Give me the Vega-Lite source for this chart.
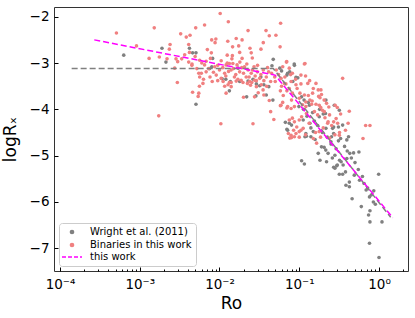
{
  "$schema": "https://vega.github.io/schema/vega-lite/v6.json",
  "width": 354,
  "height": 264,
  "autosize": {"type": "none"},
  "padding": {"left": 54, "top": 7, "right": 7, "bottom": 47},
  "config": {
    "font": "DejaVu Sans",
    "view": {"stroke": "#333333", "strokeWidth": 1}
  },
  "datasets": {
    "wright": [
      {"Ro":0.00063,"logRx":-2.83},{"Ro":0.0019,"logRx":-2.68},{"Ro":0.00213,"logRx":-2.98},{"Ro":0.0042,"logRx":-2.68},
      {"Ro":0.00507,"logRx":-2.78},{"Ro":0.00507,"logRx":-3.89},{"Ro":0.0082,"logRx":-2.90},{"Ro":0.0472,"logRx":-2.92},
      {"Ro":0.0455,"logRx":-3.06},{"Ro":0.008,"logRx":-3.08},{"Ro":0.0179,"logRx":-3.40},{"Ro":0.0228,"logRx":-3.39},
      {"Ro":0.0319,"logRx":-3.49},{"Ro":0.036,"logRx":-3.47},{"Ro":0.0415,"logRx":-3.51},{"Ro":0.0133,"logRx":-3.60},
      {"Ro":0.0286,"logRx":-3.71},{"Ro":0.0386,"logRx":-3.69},{"Ro":0.0467,"logRx":-3.80},{"Ro":0.0866,"logRx":-3.02},
      {"Ro":0.057,"logRx":-3.11},{"Ro":0.0715,"logRx":-3.22},{"Ro":0.091,"logRx":-3.31},{"Ro":0.099,"logRx":-3.94},
      {"Ro":0.134,"logRx":-3.91},{"Ro":0.216,"logRx":-3.80},{"Ro":0.275,"logRx":-3.91},{"Ro":0.318,"logRx":-4.02},
      {"Ro":0.0715,"logRx":-4.45},{"Ro":0.121,"logRx":-4.52},{"Ro":0.14,"logRx":-4.59},{"Ro":0.216,"logRx":-4.41},
      {"Ro":0.262,"logRx":-4.41},{"Ro":0.254,"logRx":-4.59},{"Ro":0.113,"logRx":-4.00},{"Ro":0.147,"logRx":-4.07},
      {"Ro":0.178,"logRx":-4.16},{"Ro":0.213,"logRx":-4.09},{"Ro":0.27,"logRx":-4.38},{"Ro":0.31,"logRx":-4.38},
      {"Ro":0.35,"logRx":-4.34},{"Ro":0.27,"logRx":-4.52},{"Ro":0.33,"logRx":-4.63},{"Ro":0.415,"logRx":-4.59},
      {"Ro":0.395,"logRx":-4.66},{"Ro":0.15,"logRx":-4.48},{"Ro":0.123,"logRx":-4.58},{"Ro":0.158,"logRx":-4.65},
      {"Ro":0.19,"logRx":-4.81},{"Ro":0.215,"logRx":-4.88},{"Ro":0.25,"logRx":-4.70},{"Ro":0.23,"logRx":-4.95},
      {"Ro":0.28,"logRx":-4.99},{"Ro":0.32,"logRx":-5.10},{"Ro":0.43,"logRx":-4.95},{"Ro":0.48,"logRx":-4.94},
      {"Ro":0.56,"logRx":-4.92},{"Ro":0.395,"logRx":-5.06},{"Ro":0.355,"logRx":-5.20},{"Ro":0.28,"logRx":-5.27},
      {"Ro":0.22,"logRx":-5.13},{"Ro":0.107,"logRx":-5.11},{"Ro":0.116,"logRx":-5.18},{"Ro":0.182,"logRx":-5.10},
      {"Ro":0.173,"logRx":-4.95},{"Ro":0.136,"logRx":-4.30},{"Ro":0.112,"logRx":-4.23},{"Ro":0.27,"logRx":-5.25},
      {"Ro":0.295,"logRx":-5.22},{"Ro":0.318,"logRx":-5.40},{"Ro":0.35,"logRx":-5.40},{"Ro":0.385,"logRx":-5.64},
      {"Ro":0.425,"logRx":-5.57},{"Ro":0.425,"logRx":-5.67},{"Ro":0.46,"logRx":-5.93},{"Ro":0.49,"logRx":-5.42},
      {"Ro":0.57,"logRx":-5.53},{"Ro":0.60,"logRx":-6.10},{"Ro":0.69,"logRx":-5.74},{"Ro":0.76,"logRx":-5.89},
      {"Ro":0.77,"logRx":-6.19},{"Ro":0.74,"logRx":-6.28},{"Ro":0.77,"logRx":-6.43},{"Ro":0.86,"logRx":-5.76},
      {"Ro":0.99,"logRx":-5.40},{"Ro":1.09,"logRx":-6.43},{"Ro":0.76,"logRx":-6.89},{"Ro":1.0,"logRx":-7.20},
      {"Ro":0.335,"logRx":-5.13},{"Ro":0.38,"logRx":-5.35},{"Ro":0.07,"logRx":-4.43},{"Ro":0.075,"logRx":-4.30},
      {"Ro":0.118,"logRx":-4.59},{"Ro":0.0075,"logRx":-3.12},{"Ro":0.0108,"logRx":-3.34},{"Ro":0.0137,"logRx":-3.40},
      {"Ro":0.0171,"logRx":-3.11},{"Ro":0.0219,"logRx":-3.73},{"Ro":0.0263,"logRx":-3.35},{"Ro":0.029,"logRx":-3.45},
      {"Ro":0.033,"logRx":-3.30},{"Ro":0.06,"logRx":-3.17},{"Ro":0.07,"logRx":-3.26},{"Ro":0.076,"logRx":-3.19},
      {"Ro":0.087,"logRx":-3.05},{"Ro":0.096,"logRx":-3.32},{"Ro":0.083,"logRx":-3.40},{"Ro":0.107,"logRx":-3.73},
      {"Ro":0.115,"logRx":-3.80},{"Ro":0.13,"logRx":-3.85},{"Ro":0.18,"logRx":-4.00},{"Ro":0.20,"logRx":-4.10},
      {"Ro":0.067,"logRx":-4.28},{"Ro":0.08,"logRx":-4.34},{"Ro":0.012,"logRx":-3.35},{"Ro":0.0046,"logRx":-2.78},
      {"Ro":0.17,"logRx":-4.35},{"Ro":0.195,"logRx":-4.50},{"Ro":0.225,"logRx":-4.60},{"Ro":0.25,"logRx":-4.75},
      {"Ro":0.29,"logRx":-4.85},{"Ro":0.31,"logRx":-4.68},{"Ro":0.37,"logRx":-4.80},{"Ro":0.40,"logRx":-4.90},
      {"Ro":0.45,"logRx":-5.05},{"Ro":0.50,"logRx":-5.15},{"Ro":0.55,"logRx":-5.30},{"Ro":0.62,"logRx":-5.45},
      {"Ro":0.65,"logRx":-5.60},{"Ro":0.72,"logRx":-5.70},{"Ro":0.80,"logRx":-5.85},{"Ro":0.85,"logRx":-6.00},
      {"Ro":0.90,"logRx":-6.05},{"Ro":0.26,"logRx":-5.05},{"Ro":0.30,"logRx":-5.20},{"Ro":0.205,"logRx":-4.82},
      {"Ro":0.14,"logRx":-4.40},{"Ro":0.155,"logRx":-4.25},{"Ro":0.125,"logRx":-4.15}
    ],
    "binaries": [
      {"Ro":0.00051,"logRx":-2.35},{"Ro":0.00091,"logRx":-2.63},{"Ro":0.00152,"logRx":-2.24},{"Ro":0.00131,"logRx":-2.90},
      {"Ro":0.00176,"logRx":-2.87},{"Ro":0.0022,"logRx":-2.91},{"Ro":0.0024,"logRx":-2.60},{"Ro":0.00235,"logRx":-2.70},
      {"Ro":0.00326,"logRx":-2.37},{"Ro":0.00383,"logRx":-2.44},{"Ro":0.00427,"logRx":-2.40},{"Ro":0.00411,"logRx":-2.60},
      {"Ro":0.0042,"logRx":-2.77},{"Ro":0.00366,"logRx":-2.82},{"Ro":0.00503,"logRx":-2.24},{"Ro":0.00495,"logRx":-2.86},
      {"Ro":0.00285,"logRx":-2.91},{"Ro":0.00299,"logRx":-2.97},{"Ro":0.00336,"logRx":-2.91},{"Ro":0.00274,"logRx":-3.11},
      {"Ro":0.00411,"logRx":-2.98},{"Ro":0.00452,"logRx":-3.02},{"Ro":0.00296,"logRx":-3.42},{"Ro":0.0046,"logRx":-3.63},
      {"Ro":0.0055,"logRx":-3.65},{"Ro":0.0054,"logRx":-3.72},{"Ro":0.00173,"logRx":-4.14},{"Ro":0.0055,"logRx":-3.22},
      {"Ro":0.0065,"logRx":-2.18},
      {"Ro":0.0102,"logRx":-1.93},{"Ro":0.0129,"logRx":-2.11},{"Ro":0.0228,"logRx":-2.30},{"Ro":0.0383,"logRx":-2.30},
      {"Ro":0.0421,"logRx":-2.41},{"Ro":0.00798,"logRx":-2.50},{"Ro":0.009,"logRx":-2.48},{"Ro":0.0088,"logRx":-2.56},
      {"Ro":0.0127,"logRx":-2.53},{"Ro":0.0162,"logRx":-2.47},{"Ro":0.0192,"logRx":-2.50},{"Ro":0.0174,"logRx":-2.63},
      {"Ro":0.0241,"logRx":-2.68},{"Ro":0.0331,"logRx":-2.70},{"Ro":0.0354,"logRx":-2.56},{"Ro":0.00704,"logRx":-2.71},
      {"Ro":0.0079,"logRx":-2.78},{"Ro":0.0146,"logRx":-2.65},{"Ro":0.0179,"logRx":-2.77},{"Ro":0.025,"logRx":-2.78},
      {"Ro":0.0125,"logRx":-2.83},{"Ro":0.0145,"logRx":-2.84},{"Ro":0.0143,"logRx":-2.91},{"Ro":0.0192,"logRx":-2.90},
      {"Ro":0.0258,"logRx":-2.89},{"Ro":0.0077,"logRx":-2.90},{"Ro":0.0584,"logRx":-2.14},{"Ro":0.0575,"logRx":-2.65},
      {"Ro":0.051,"logRx":-2.40},
      {"Ro":0.00564,"logRx":-2.94},{"Ro":0.00592,"logRx":-3.22},{"Ro":0.00564,"logRx":-3.30},{"Ro":0.0065,"logRx":-3.04},
      {"Ro":0.0068,"logRx":-3.19},{"Ro":0.0076,"logRx":-3.30},{"Ro":0.0087,"logRx":-3.08},{"Ro":0.0091,"logRx":-3.26},
      {"Ro":0.01,"logRx":-3.15},{"Ro":0.0105,"logRx":-3.33},{"Ro":0.0116,"logRx":-3.22},{"Ro":0.0121,"logRx":-3.04},
      {"Ro":0.0133,"logRx":-3.01},{"Ro":0.014,"logRx":-3.15},{"Ro":0.0147,"logRx":-3.01},{"Ro":0.0154,"logRx":-3.30},
      {"Ro":0.0166,"logRx":-3.04},{"Ro":0.0179,"logRx":-3.19},{"Ro":0.0187,"logRx":-3.37},{"Ro":0.0206,"logRx":-3.08},
      {"Ro":0.0216,"logRx":-3.30},{"Ro":0.0228,"logRx":-3.15},{"Ro":0.0239,"logRx":-3.40},{"Ro":0.025,"logRx":-3.22},
      {"Ro":0.0271,"logRx":-3.08},{"Ro":0.0276,"logRx":-3.37},{"Ro":0.0298,"logRx":-3.19},{"Ro":0.0319,"logRx":-3.33},
      {"Ro":0.0334,"logRx":-3.47},{"Ro":0.0354,"logRx":-3.15},{"Ro":0.0386,"logRx":-3.30},{"Ro":0.0413,"logRx":-3.19},
      {"Ro":0.0438,"logRx":-3.40},{"Ro":0.0492,"logRx":-3.30},{"Ro":0.0515,"logRx":-3.15},{"Ro":0.0062,"logRx":-3.44},
      {"Ro":0.0081,"logRx":-3.40},{"Ro":0.0111,"logRx":-3.40},{"Ro":0.0133,"logRx":-3.42},{"Ro":0.0162,"logRx":-3.39},
      {"Ro":0.0197,"logRx":-3.42},{"Ro":0.0224,"logRx":-3.44},{"Ro":0.0254,"logRx":-3.42},{"Ro":0.0116,"logRx":-3.50},
      {"Ro":0.0128,"logRx":-3.47},{"Ro":0.014,"logRx":-3.51},{"Ro":0.029,"logRx":-3.51},{"Ro":0.0352,"logRx":-3.58},
      {"Ro":0.0121,"logRx":-3.65},{"Ro":0.02,"logRx":-3.74},{"Ro":0.0306,"logRx":-3.64},{"Ro":0.036,"logRx":-3.69},
      {"Ro":0.0421,"logRx":-3.81},{"Ro":0.0438,"logRx":-4.05},{"Ro":0.048,"logRx":-4.22},{"Ro":0.0104,"logRx":-4.31},
      {"Ro":0.0263,"logRx":-4.31},
      {"Ro":0.0045,"logRx":-3.05},{"Ro":0.0052,"logRx":-3.12},{"Ro":0.006,"logRx":-3.00},{"Ro":0.0068,"logRx":-2.96},
      {"Ro":0.0073,"logRx":-3.12},{"Ro":0.0084,"logRx":-3.20},{"Ro":0.0095,"logRx":-3.05},{"Ro":0.011,"logRx":-3.10},
      {"Ro":0.012,"logRx":-3.28},{"Ro":0.013,"logRx":-3.18},{"Ro":0.015,"logRx":-3.12},{"Ro":0.016,"logRx":-3.25},
      {"Ro":0.017,"logRx":-3.35},{"Ro":0.019,"logRx":-3.10},{"Ro":0.020,"logRx":-3.22},{"Ro":0.022,"logRx":-3.02},
      {"Ro":0.0235,"logRx":-3.30},{"Ro":0.026,"logRx":-3.15},{"Ro":0.028,"logRx":-3.28},{"Ro":0.030,"logRx":-3.05},
      {"Ro":0.033,"logRx":-3.25},{"Ro":0.036,"logRx":-3.38},{"Ro":0.040,"logRx":-3.10},{"Ro":0.045,"logRx":-3.22},
      {"Ro":0.050,"logRx":-3.40},{"Ro":0.055,"logRx":-3.25},{"Ro":0.060,"logRx":-3.50},{"Ro":0.066,"logRx":-3.30},
      {"Ro":0.075,"logRx":-3.55},{"Ro":0.082,"logRx":-3.65},{"Ro":0.0095,"logRx":-3.38},{"Ro":0.0105,"logRx":-2.95},
      {"Ro":0.014,"logRx":-3.42},{"Ro":0.018,"logRx":-2.98},{"Ro":0.0245,"logRx":-3.48},{"Ro":0.029,"logRx":-3.38},
      {"Ro":0.039,"logRx":-3.50},{"Ro":0.0125,"logRx":-3.00},{"Ro":0.0063,"logRx":-3.35},{"Ro":0.0056,"logRx":-3.50},
      {"Ro":0.0697,"logRx":-2.97},{"Ro":0.116,"logRx":-3.02},{"Ro":0.062,"logRx":-3.08},{"Ro":0.075,"logRx":-3.11},
      {"Ro":0.082,"logRx":-3.22},{"Ro":0.105,"logRx":-3.26},{"Ro":0.059,"logRx":-3.33},{"Ro":0.065,"logRx":-3.44},
      {"Ro":0.079,"logRx":-3.40},{"Ro":0.091,"logRx":-3.47},{"Ro":0.128,"logRx":-3.44},{"Ro":0.162,"logRx":-3.44},
      {"Ro":0.187,"logRx":-3.58},{"Ro":0.147,"logRx":-3.65},{"Ro":0.116,"logRx":-3.69},{"Ro":0.10,"logRx":-3.76},
      {"Ro":0.079,"logRx":-3.98},{"Ro":0.0715,"logRx":-3.94},{"Ro":0.087,"logRx":-3.94},{"Ro":0.121,"logRx":-3.94},
      {"Ro":0.136,"logRx":-3.80},{"Ro":0.178,"logRx":-3.91},{"Ro":0.206,"logRx":-4.05},{"Ro":0.35,"logRx":-3.33},
      {"Ro":0.059,"logRx":-3.91},{"Ro":0.075,"logRx":-4.23},{"Ro":0.087,"logRx":-4.27},{"Ro":0.10,"logRx":-4.23},
      {"Ro":0.079,"logRx":-4.56},{"Ro":0.091,"logRx":-4.52},{"Ro":0.105,"logRx":-4.45},{"Ro":0.178,"logRx":-4.48},
      {"Ro":0.227,"logRx":-4.30},{"Ro":0.303,"logRx":-4.30},{"Ro":0.318,"logRx":-4.56},{"Ro":0.424,"logRx":-4.04},
      {"Ro":0.68,"logRx":-4.35},{"Ro":0.77,"logRx":-4.35},{"Ro":0.63,"logRx":-4.63},{"Ro":0.173,"logRx":-3.58},
      {"Ro":0.182,"logRx":-3.75},{"Ro":0.118,"logRx":-3.01},{"Ro":0.069,"logRx":-2.98},
      {"Ro":0.121,"logRx":-3.84},{"Ro":0.143,"logRx":-3.89},{"Ro":0.162,"logRx":-3.89},{"Ro":0.186,"logRx":-3.96},
      {"Ro":0.22,"logRx":-3.87},{"Ro":0.282,"logRx":-3.91},{"Ro":0.30,"logRx":-3.96},{"Ro":0.123,"logRx":-4.09},
      {"Ro":0.23,"logRx":-4.27},{"Ro":0.27,"logRx":-4.27},{"Ro":0.32,"logRx":-4.50},{"Ro":0.15,"logRx":-4.63},
      {"Ro":0.165,"logRx":-4.73},{"Ro":0.107,"logRx":-4.16},{"Ro":0.112,"logRx":-4.41},
      {"Ro":0.0275,"logRx":-3.73},{"Ro":0.073,"logRx":-4.52},{"Ro":0.08,"logRx":-4.61},{"Ro":0.087,"logRx":-4.59},
      {"Ro":0.10,"logRx":-4.48},{"Ro":0.082,"logRx":-4.19},{"Ro":0.058,"logRx":-3.92},{"Ro":0.07,"logRx":-3.97},
      {"Ro":0.063,"logRx":-3.70},{"Ro":0.07,"logRx":-3.60},{"Ro":0.08,"logRx":-3.80},{"Ro":0.094,"logRx":-3.55},
      {"Ro":0.102,"logRx":-3.65},{"Ro":0.11,"logRx":-3.90},{"Ro":0.13,"logRx":-3.70},{"Ro":0.145,"logRx":-3.82},
      {"Ro":0.155,"logRx":-4.05},{"Ro":0.17,"logRx":-4.12},{"Ro":0.195,"logRx":-4.02},{"Ro":0.21,"logRx":-4.18},
      {"Ro":0.24,"logRx":-4.12},{"Ro":0.255,"logRx":-4.35},{"Ro":0.29,"logRx":-4.20},{"Ro":0.33,"logRx":-4.10},
      {"Ro":0.38,"logRx":-4.45},{"Ro":0.41,"logRx":-4.30},{"Ro":0.20,"logRx":-4.40},{"Ro":0.16,"logRx":-4.50},
      {"Ro":0.12,"logRx":-4.55},{"Ro":0.10,"logRx":-4.60},{"Ro":0.076,"logRx":-4.62},{"Ro":0.085,"logRx":-4.45},
      {"Ro":0.093,"logRx":-4.38},{"Ro":0.133,"logRx":-4.30},{"Ro":0.24,"logRx":-4.62},{"Ro":0.28,"logRx":-4.55},
      {"Ro":0.185,"logRx":-4.60},
      {"Ro":0.078,"logRx":-3.25},{"Ro":0.09,"logRx":-3.35},{"Ro":0.105,"logRx":-3.45},{"Ro":0.12,"logRx":-3.28},
      {"Ro":0.135,"logRx":-3.38},{"Ro":0.15,"logRx":-3.55},{"Ro":0.068,"logRx":-3.45},{"Ro":0.058,"logRx":-3.60},
      {"Ro":0.062,"logRx":-3.85},{"Ro":0.175,"logRx":-3.72},{"Ro":0.205,"logRx":-3.80},{"Ro":0.235,"logRx":-3.95},
      {"Ro":0.19,"logRx":-3.68}
    ],
    "wline": [
      {"Ro":0.00014,"logRx":-3.12},{"Ro":0.0473,"logRx":-3.12},{"Ro":1.4,"logRx":-6.33}
    ],
    "tline": [
      {"Ro":0.000269,"logRx":-2.50},{"Ro":0.0497,"logRx":-3.26},{"Ro":1.49,"logRx":-6.34}
    ]
  },
  "layer": [
    {
      "data": {"name": "wright"},
      "mark": {"type": "point", "filled": true, "size": 13, "opacity": 1},
      "encoding": {
        "x": {
          "field": "Ro", "type": "quantitative",
          "scale": {"type": "log", "domain": [0.0000841, 2.31], "nice": false},
          "axis": {
            "title": "Ro", "titleFontSize": 17, "titleFontWeight": "normal", "titleColor": "black", "titlePadding": 3,
            "values": [0.0001,0.0002,0.0003,0.0004,0.0005,0.0006,0.0007,0.0008,0.0009,0.001,0.002,0.003,0.004,0.005,0.006,0.007,0.008,0.009,0.01,0.02,0.03,0.04,0.05,0.06,0.07,0.08,0.09,0.1,0.2,0.3,0.4,0.5,0.6,0.7,0.8,0.9,1,2],
            "labelExpr": "datum.value == 0.0001 ? '10⁻⁴' : datum.value == 0.001 ? '10⁻³' : datum.value == 0.01 ? '10⁻²' : datum.value == 0.1 ? '10⁻¹' : datum.value == 1 ? '10⁰' : ''",
            "labelFontSize": 13.5, "labelColor": "black", "labelPadding": 10, "labelOverlap": false, "labelFlush": false,
            "tickColor": "black",
            "tickSize": {"condition": {"test": "datum.value == 0.0001 || datum.value == 0.001 || datum.value == 0.01 || datum.value == 0.1 || datum.value == 1", "value": -4}, "value": -2},
            "domain": false, "grid": false
          }
        },
        "y": {
          "field": "logRx", "type": "quantitative",
          "scale": {"domain": [-7.49, -1.79], "nice": false, "zero": false},
          "axis": {
            "title": "logRₓ", "titleFontSize": 17, "titleFontWeight": "normal", "titleColor": "black", "titlePadding": 10,
            "values": [-7,-6,-5,-4,-3,-2],
            "labelExpr": "'−' + abs(datum.value)",
            "labelFontSize": 13.5, "labelColor": "black", "labelPadding": 9,
            "tickColor": "black", "tickSize": -4,
            "domain": false, "grid": false
          }
        },
        "color": {
          "datum": "Wright et al. (2011)",
          "scale": {"domain": ["Wright et al. (2011)", "Binaries in this work", "this work"], "range": ["#808080", "#f08080", "#ff00ff"]},
          "legend": {
            "title": null, "orient": "bottom-left", "offset": 5,
            "labelFontSize": 10, "labelColor": "black", "labelOffset": 13,
            "padding": 4, "rowPadding": 1, "symbolOffset": 4,
            "symbolSize": 400, "symbolType": "circle",
            "symbolDash": [4, 2], "symbolStrokeWidth": 1.5,
            "strokeColor": "#cccccc", "fillColor": "rgba(255,255,255,0.8)", "cornerRadius": 3,
            "encoding": {
              "symbols": {
                "shape": {"value": {"expr": "datum.value === 'this work' ? 'stroke' : 'circle'"}},
                "size": {"value": {"expr": "datum.value === 'this work' ? 400 : 22"}},
                "stroke": {"value": {"expr": "datum.value === 'this work' ? '#ff00ff' : 'transparent'"}}
              }
            }
          }
        }
      }
    },
    {
      "data": {"name": "binaries"},
      "mark": {"type": "point", "filled": true, "size": 13, "opacity": 1},
      "encoding": {
        "x": {"field": "Ro", "type": "quantitative"},
        "y": {"field": "logRx", "type": "quantitative"},
        "color": {"datum": "Binaries in this work"}
      }
    },
    {
      "data": {"name": "wline"},
      "mark": {"type": "line", "color": "#808080", "strokeWidth": 1.5, "strokeDash": [6, 3]},
      "encoding": {
        "x": {"field": "Ro", "type": "quantitative"},
        "y": {"field": "logRx", "type": "quantitative"}
      }
    },
    {
      "data": {"name": "tline"},
      "mark": {"type": "line", "color": "#ff00ff", "strokeWidth": 1.5, "strokeDash": [6, 3]},
      "encoding": {
        "x": {"field": "Ro", "type": "quantitative"},
        "y": {"field": "logRx", "type": "quantitative"}
      }
    }
  ]
}
